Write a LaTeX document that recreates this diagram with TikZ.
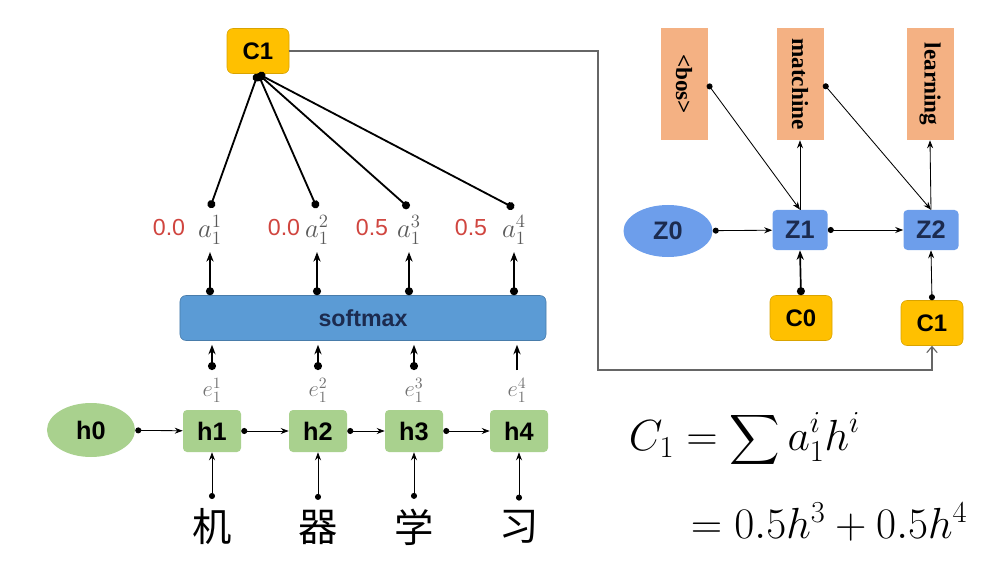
\RequirePackage{fix-cm}
\documentclass[tikz,border=0pt]{standalone}
\usepackage{amsmath}
\usepackage{fontspec}
\setsansfont{Liberation Sans}
\newfontfamily\wordfont{Liberation Serif}
\newfontfamily\cjkfont{Noto Sans CJK SC}
\usetikzlibrary{arrows.meta, positioning, shapes.geometric}

\definecolor{cgold}{HTML}{FFC000}
\definecolor{cgoldline}{HTML}{D9A300}
\definecolor{hgreen}{HTML}{A9D18E}
\definecolor{smblue}{HTML}{5B9BD5}
\definecolor{zblue}{HTML}{6D9EEB}
\definecolor{navy}{HTML}{1C2B4F}
\definecolor{wordorange}{HTML}{F4B183}
\definecolor{valred}{HTML}{D0453F}

\begin{document}
\begin{tikzpicture}[
    x=0.25mm, y=-0.25mm,
    cbox/.style={draw=cgoldline, fill=cgold, rounded corners=1.5mm, minimum width=15.5mm, minimum height=11.25mm, font=\sffamily\bfseries\fontsize{17}{19}\selectfont},
    hbox/.style={fill=hgreen, rounded corners=1mm, minimum width=14.5mm, minimum height=10.5mm, font=\sffamily\bfseries\fontsize{18}{20}\selectfont},
    hstart/.style={ellipse, fill=hgreen, minimum width=22mm, minimum height=13.5mm, font=\sffamily\bfseries\fontsize{18}{20}\selectfont},
    zbox/.style={fill=zblue, rounded corners=1mm, minimum width=13.75mm, minimum height=10mm, text=navy, font=\sffamily\bfseries\fontsize{18}{20}\selectfont},
    zstart/.style={ellipse, fill=zblue, minimum width=22.25mm, minimum height=13mm, text=navy, font=\sffamily\bfseries\fontsize{18}{20}\selectfont},
    wordbox/.style={fill=wordorange, minimum width=11.75mm, minimum height=28mm, inner sep=0pt, font=\wordfont\bfseries\fontsize{16.5}{18}\selectfont},
    smbox/.style={draw=smblue!80!black, fill=smblue, rounded corners=1.5mm, minimum width=91.5mm, minimum height=11.25mm, text=navy, font=\sffamily\bfseries\fontsize{16.5}{18}\selectfont},
    weight/.style={inner xsep=0pt, inner ysep=1.9mm, text=black!65, font=\fontsize{19}{21}\selectfont},
    score/.style={inner xsep=0pt, inner ysep=1.9mm, text=black!55, font=\fontsize{16}{18}\selectfont},
    val/.style={text=valred, font=\sffamily\fontsize{16.5}{18}\selectfont},
    word/.style={inner sep=2.4mm, font=\cjkfont\fontsize{28}{30}\selectfont},
    arr/.style={-{Stealth[length=2mm, width=1.5mm]}, line width=0.6pt},
    dotarr/.style={{Circle[length=1.5mm]}-{Stealth[length=2mm, width=1.5mm]}, line width=0.6pt},
    thickarr/.style={{Circle[length=2mm]}-{Stealth[length=2.4mm, width=1.8mm]}, line width=1.4pt},
    fan/.style={{Circle[length=2mm]}-{Circle[length=2mm]}, line width=1.3pt},
    feed/.style={-{Straight Barb[length=1.5mm, width=2.6mm]}, draw=black!60, line width=0.8pt}
]
\useasboundingbox (0,0) rectangle (1000,568);

% encoder
\node[hstart] (h0) at (91,430) {h0};
\node[hbox] (h1) at (212,431) {h1};
\node[hbox] (h2) at (318,431) {h2};
\node[hbox] (h3) at (414,431) {h3};
\node[hbox] (h4) at (519,431) {h4};

\node[word] (w1) at (212,527) {机};
\node[word] (w2) at (318,527) {器};
\node[word] (w3) at (414,527) {学};
\node[word] (w4) at (519,527) {习};

\draw[dotarr] (h0) -- (h1);
\draw[dotarr] (h1) -- (h2);
\draw[dotarr] (h2) -- (h3);
\draw[dotarr] (h3) -- (h4);
\draw[dotarr] (w1.north) -- (h1.south);
\draw[dotarr] (w2.north) -- (h2.south);
\draw[dotarr] (w3.north) -- (h3.south);
\draw[dotarr] (w4.north) -- (h4.south);

% scores and softmax
\node[score] (e1) at (212,390) {$e_1^1$};
\node[score] (e2) at (318,390) {$e_1^2$};
\node[score] (e3) at (414,390) {$e_1^3$};
\node[score] (e4) at (517,390) {$e_1^4$};

\node[smbox] (softmax) at (363,318) {softmax};

\draw[thickarr, shorten >=1mm] (e1.north) -- (e1.north |- softmax.south);
\draw[thickarr, shorten >=1mm] (e2.north) -- (e2.north |- softmax.south);
\draw[thickarr, shorten >=1mm] (e3.north) -- (e3.north |- softmax.south);
\draw[thickarr, -{Stealth[length=2.4mm, width=1.8mm]}, line width=1.2pt, shorten >=1mm] (e4.north) -- (e4.north |- softmax.south);

\node[weight] (a1) at (210,230) {$a_1^1$};
\node[weight] (a2) at (317,230) {$a_1^2$};
\node[weight] (a3) at (409,230) {$a_1^3$};
\node[weight] (a4) at (514,230) {$a_1^4$};

\node[val] (v1) at (169,228) {0.0};
\node[val] (v2) at (284,228) {0.0};
\node[val] (v3) at (372,228) {0.5};
\node[val] (v4) at (471,228) {0.5};

\draw[thickarr] (a1.south |- softmax.north) -- (a1.south);
\draw[thickarr] (a2.south |- softmax.north) -- (a2.south);
\draw[thickarr] (a3.south |- softmax.north) -- (a3.south);
\draw[thickarr] (a4.south |- softmax.north) -- (a4.south);

% context
\node[cbox] (c1top) at (258,51) {C1};
\draw[fan] (a1.north) -- (c1top.south);
\draw[fan] (a2.north) -- (c1top.south);
\draw[fan] (a3.north) -- (c1top.south);
\draw[fan] (a4.north) -- (c1top.south);

% decoder
\node[wordbox] (bos) at (684,84) {\rotatebox{-90}{<bos>}};
\node[wordbox] (matchine) at (800,84) {\rotatebox{-90}{matchine}};
\node[wordbox] (learning) at (930,84) {\rotatebox{-90}{learning}};

\node[zstart] (z0) at (668,231) {Z0};
\node[zbox] (z1) at (800,230) {Z1};
\node[zbox] (z2) at (931,230) {Z2};
\node[cbox] (c0) at (801,318) {C0};
\node[cbox] (c1dec) at (932,323) {C1};

\draw[dotarr] (z0) -- (z1);
\draw[dotarr] (z1) -- (z2);
\draw[thickarr, line width=1.2pt] (c0.north) -- (z1.south);
\draw[dotarr] (c1dec.north) -- (z2.south);
\draw[arr] (z1.north) -- (matchine.south);
\draw[arr] (z2.north) -- (learning.south);
\draw[dotarr] (bos.east) -- (z1.north);
\draw[dotarr] (matchine.east) -- (z2.north);

\coordinate (bend) at (598,370);
\draw[feed] (c1top.east) -| (bend) -| (c1dec.south);

% formula
\node[anchor=west, font=\fontsize{31}{36}\selectfont] (sumline) at (624,440) {$\displaystyle C_1 = \sum a_1^i h^i$};
\node[anchor=west, font=\fontsize{31}{36}\selectfont] (valline) at (686,522) {$= 0.5h^3 + 0.5h^4$};
\end{tikzpicture}
\end{document}
